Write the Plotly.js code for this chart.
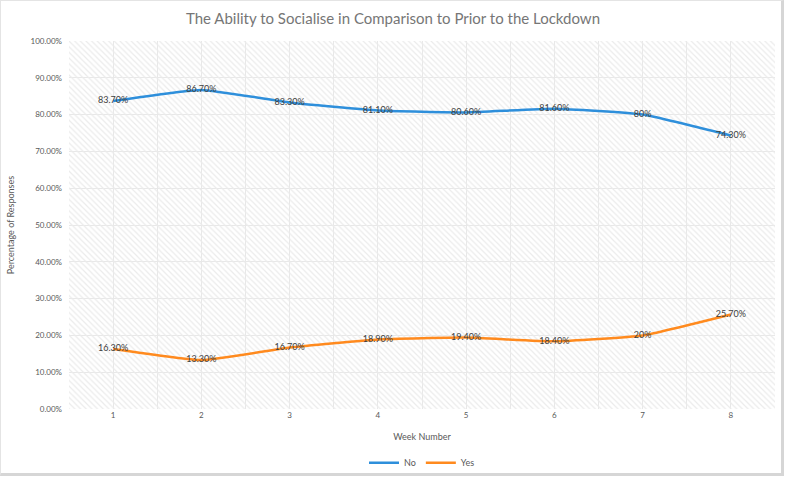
<!DOCTYPE html>
<html>
<head>
<meta charset="utf-8">
<script src="https://cdn.plot.ly/plotly-3.0.1.min.js"></script>
<style>
  body { margin: 0; background: #ffffff; }
  #chart {
    width: 784px; height: 476px;
    border-top: 1px solid #e4e4e4; border-left: 1px solid #e4e4e4;
    border-right: 3px solid #d6d6d6; border-bottom: 3px solid #d6d6d6;
    box-sizing: border-box;
  }
</style>
</head>
<body>
<div id="chart"></div>
<script>
// chart values
const weeks = [1, 2, 3, 4, 5, 6, 7, 8];
const noValues = [83.7, 86.7, 83.3, 81.1, 80.6, 81.6, 80, 74.3];
const yesValues = [16.3, 13.3, 16.7, 18.9, 19.4, 18.4, 20, 25.7];
const seriesNames = ["No", "Yes"];

// excel-ish label: 80 -> "80%", 83.7 -> "83.70%"
function pctLabel(v) {
  return Number.isInteger(v) ? v + "%" : v.toFixed(2) + "%";
}

const xLo = weeks[0] - 0.5;
const xHi = weeks[weeks.length - 1] + 0.5;

const labelFont = { family: "Lato, sans-serif", size: 9, color: "#404040" };

const traces = [
  // hatched plot background, drawn first so lines sit on top
  {
    x: [xLo, xHi, xHi, xLo, xLo],
    y: [0, 0, 1, 1, 0],
    mode: "lines",
    fill: "toself",
    fillcolor: "rgba(0,0,0,0)",
    fillpattern: { shape: "\\", fgcolor: "#ebebeb", bgcolor: "rgba(0,0,0,0)", size: 4, solidity: 0.3 },
    line: { width: 0 },
    hoverinfo: "skip",
    showlegend: false,
  },
  {
    x: weeks,
    y: noValues.map((v) => v / 100),
    name: seriesNames[0],
    mode: "lines+text",
    text: noValues.map(pctLabel),
    textposition: "middle center",
    textfont: labelFont,
    line: { color: "#2E8FDB", width: 2.5, shape: "spline", smoothing: 0.4 },
  },
  {
    x: weeks,
    y: yesValues.map((v) => v / 100),
    name: seriesNames[1],
    mode: "lines+text",
    text: yesValues.map(pctLabel),
    textposition: "middle center",
    textfont: labelFont,
    line: { color: "#FF8A1E", width: 2.5, shape: "spline", smoothing: 0.4 },
  },
];

const tickFont = { family: "Lato, sans-serif", size: 8, color: "#595959" };

const layout = {
  width: 784,
  height: 476,
  margin: { l: 68, r: 10, t: 40, b: 68 },
  paper_bgcolor: "rgba(0,0,0,0)",
  plot_bgcolor: "rgba(0,0,0,0)",
  title: {
    text: "The Ability to Socialise in Comparison to Prior to the Lockdown",
    font: { family: "Lato, sans-serif", size: 15, color: "#767676" },
    x: 0.5,
    xanchor: "center",
    y: 0.963,
    yanchor: "middle",
  },
  xaxis: {
    range: [xLo, xHi],
    tickvals: weeks,
    ticktext: weeks.map(String),
    showgrid: true,
    gridcolor: "#e8e8e8",
    gridwidth: 1,
    minor: { dtick: 0.5, tick0: 0.5, showgrid: true, gridcolor: "#e8e8e8", gridwidth: 1 },
    zeroline: false,
    showline: false,
    ticks: "",
    tickfont: tickFont,
    title: { text: "Week Number", font: { family: "Lato, sans-serif", size: 9, color: "#595959" }, standoff: 14 },
  },
  yaxis: {
    range: [0, 1],
    dtick: 0.1,
    tickformat: ".2%",
    showgrid: true,
    gridcolor: "#e8e8e8",
    zeroline: false,
    showline: false,
    ticks: "",
    ticklabelstandoff: 6,
    tickfont: tickFont,
    title: { text: "Percentage of Responses", font: { family: "Lato, sans-serif", size: 9, color: "#595959" }, standoff: 14 },
  },
  legend: {
    orientation: "h",
    x: 0.5,
    xanchor: "center",
    yref: "container",
    y: 0.03,
    yanchor: "middle",
    font: { family: "Lato, sans-serif", size: 9, color: "#595959" },
  },
  showlegend: true,
};

Plotly.newPlot("chart", traces, layout, { staticPlot: true, displayModeBar: false });
</script>
</body>
</html>
